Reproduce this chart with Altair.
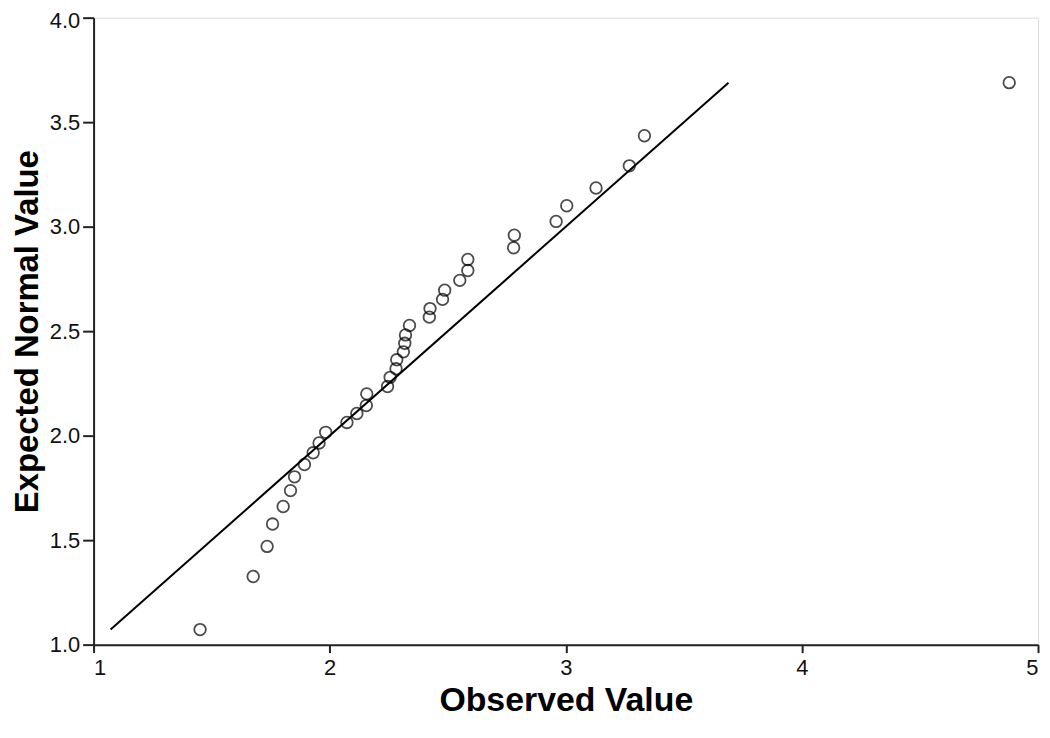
import altair as alt
import pandas as pd

observed = [1.451, 1.676, 1.735, 1.758, 1.803, 1.834, 1.851, 1.893, 1.930, 1.955,
            1.983, 2.073, 2.115, 2.155, 2.157, 2.245, 2.256, 2.281, 2.284, 2.312,
            2.318, 2.321, 2.338, 2.422, 2.425, 2.478, 2.487, 2.551, 2.585, 2.585,
            2.779, 2.782, 2.959, 3.004, 3.128, 3.269, 3.333, 4.878]
expected = [1.072, 1.326, 1.470, 1.577, 1.661, 1.737, 1.803, 1.862, 1.918, 1.965,
            2.016, 2.063, 2.106, 2.144, 2.200, 2.235, 2.279, 2.320, 2.363, 2.401,
            2.442, 2.482, 2.527, 2.567, 2.608, 2.652, 2.696, 2.743, 2.790, 2.843,
            2.899, 2.959, 3.025, 3.100, 3.185, 3.291, 3.435, 3.689]
line_x = [1.072, 3.689]
line_y = [1.072, 3.689]

pts = pd.DataFrame({"obs": observed, "exp": expected})
ref = pd.DataFrame({"obs": line_x, "exp": line_y})

FONT = "Liberation Sans, Arial"

xscale = alt.Scale(domain=[1, 5], nice=False, zero=False)
yscale = alt.Scale(domain=[1.0, 4.0], nice=False, zero=False)

xaxis = alt.Axis(title="Observed Value", values=[1, 2, 3, 4, 5], format="d",
                 grid=False, tickSize=8, tickWidth=2, tickColor="#222",
                 domainColor="#222", domainWidth=2, labelPadding=5,
                 labelFontSize=22, labelFont=FONT, labelColor="#111",
                 titleFont=FONT, titleFontSize=34, titleFontWeight="bold",
                 titleColor="#000", titleY=66, titleBaseline="alphabetic")
yaxis = alt.Axis(title="Expected Normal Value", values=[1.0, 1.5, 2.0, 2.5, 3.0, 3.5, 4.0],
                 format=".1f", grid=False, tickSize=11, tickWidth=2, tickColor="#222",
                 domainColor="#222", domainWidth=2, labelPadding=3,
                 labelOffset={"condition": {"test": "datum.value >= 4", "value": 3}, "value": 0},
                 labelFontSize=22, labelFont=FONT, labelColor="#111",
                 titleFont=FONT, titleFontSize=33, titleFontWeight="bold",
                 titleColor="#000", titleX=-66, titleBaseline="middle")

points = alt.Chart(pts).mark_point(
    shape="circle", filled=False, color="#000", strokeWidth=1.8, size=135
).encode(
    x=alt.X("obs:Q", scale=xscale, axis=xaxis),
    y=alt.Y("exp:Q", scale=yscale, axis=yaxis),
)

line = alt.Chart(ref).mark_line(color="#000", strokeWidth=2).encode(
    x=alt.X("obs:Q", scale=xscale),
    y=alt.Y("exp:Q", scale=yscale),
)

chart = alt.layer(line, points).properties(
    width=949, height=630,
    autosize=alt.AutoSizeParams(type="none"),
    padding={"left": 86, "top": 8, "right": 4, "bottom": 72},
).configure_view(stroke="#222", strokeWidth=2).configure(background="white")

chart.save("out.html", embed_options={"renderer": "svg", "actions": False})
